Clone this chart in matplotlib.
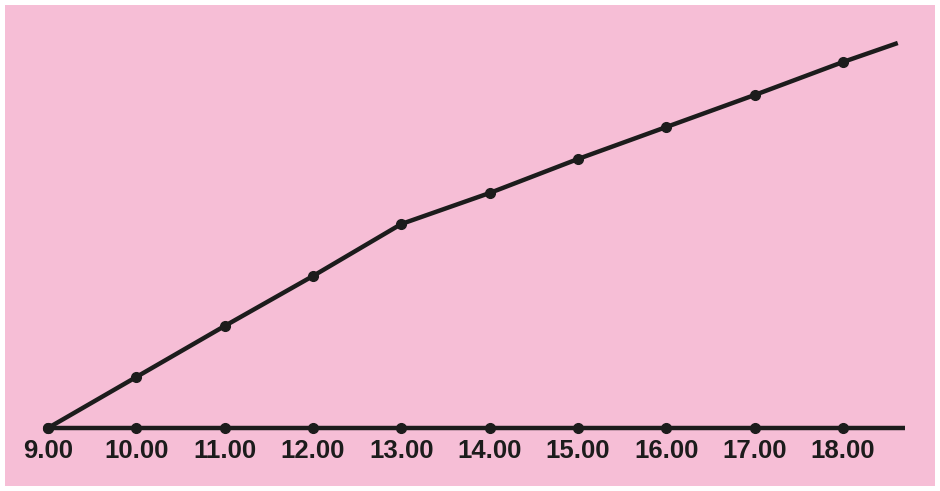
import matplotlib
matplotlib.use("Agg")
import matplotlib.pyplot as plt
from matplotlib.patches import Rectangle

# hours along the bottom and the height of the curve (in picture units)
hours = [9, 10, 11, 12, 13, 14, 15, 16, 17, 18]
values = [0, 51, 102, 152, 204, 235, 269, 301, 333, 366]
tick_labels = ["9.00", "10.00", "11.00", "12.00", "13.00",
               "14.00", "15.00", "16.00", "17.00", "18.00"]
end_hour, end_value = 18.62, 385    # line runs on past the last dot
axis_end = 18.70

pink = "#f6bed6"
ink = "#1c1c1c"

fig = plt.figure(figsize=(9.4, 4.91), dpi=100)
fig.patch.set_facecolor("white")
fig.patches.append(Rectangle((5 / 940, 5 / 491), 930 / 940, 481 / 491,
                             transform=fig.transFigure, facecolor=pink,
                             edgecolor="none", zorder=-10))

ax = fig.add_axes([0, 0, 1, 1])
ax.set_facecolor("none")
ax.set_zorder(5)
scale = (843 - 48) / 9
ax.set_xlim(9 - 48 / scale, 9 + (940 - 48) / scale)
ax.set_ylim(428 - 491, 428)
ax.axis("off")

# baseline with dots
ax.plot([hours[0], axis_end], [0, 0], color=ink, lw=3.2, solid_capstyle="butt")
ax.plot(hours, [0] * len(hours), "o", color=ink, ms=7)

# rising curve
ax.plot(hours + [end_hour], values + [end_value], color=ink, lw=3.2,
        solid_capstyle="butt")
ax.plot(hours, values, "o", color=ink, ms=7)

for h, lab in zip(hours, tick_labels):
    ax.text(h, -23, lab, ha="center", va="center", fontsize=18.5,
            fontweight="bold", family="Liberation Sans", color=ink)

fig.savefig("out.png", dpi=100, facecolor=fig.get_facecolor())
